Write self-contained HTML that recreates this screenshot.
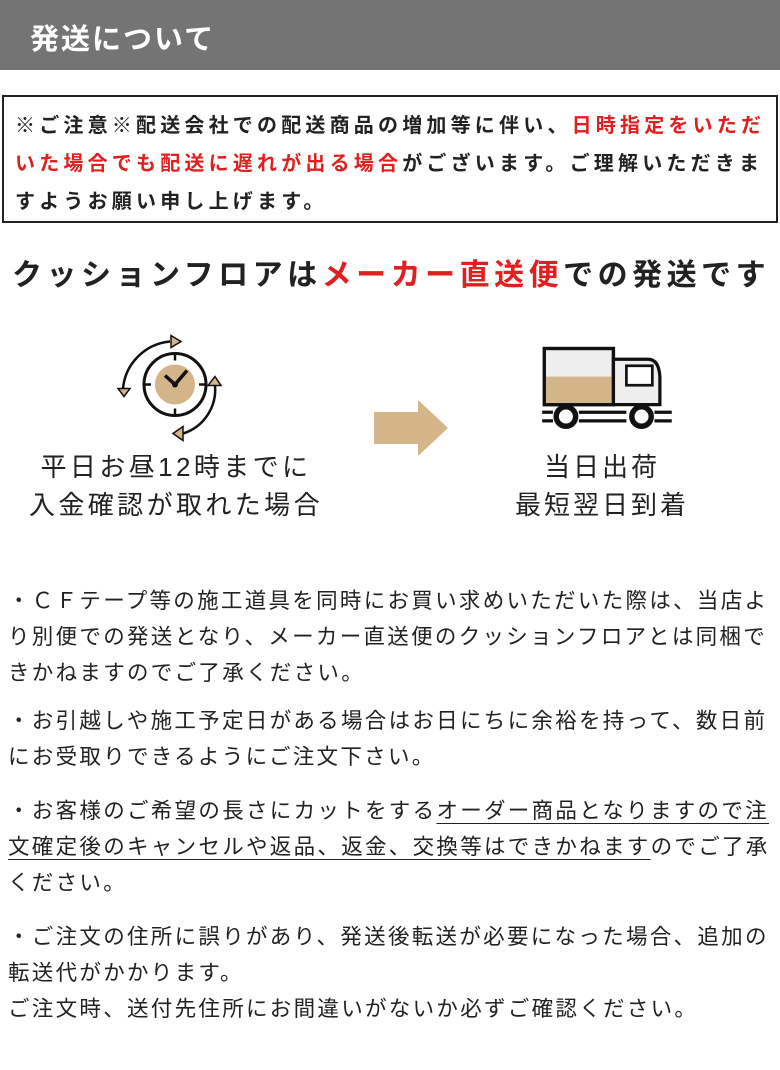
<!DOCTYPE html>
<html><head><meta charset="utf-8">
<style>
body{margin:0;width:780px;height:1070px;background:#fff;position:relative;overflow:hidden;font-family:"Liberation Sans","Noto Sans CJK JP",sans-serif;color:#222}
.a{position:absolute;white-space:nowrap}
.r{color:#e02020}
.u{text-decoration:underline;text-underline-offset:5px;text-decoration-thickness:1px}
</style></head><body>
<div class="a" style="left:0;top:0;width:780px;height:70px;background:#747474"></div>
<div class="a" style="left:30px;top:16px;font-size:29px;font-weight:bold;color:#fff;letter-spacing:2px">発送について</div>
<div class="a" style="left:2px;top:95px;width:772px;height:124px;border:2px solid #222"></div>
<div class="a" style="left:15px;top:107px;font-size:20px;font-weight:bold;letter-spacing:4.2px;line-height:38px">※ご注意※配送会社での配送商品の増加等に伴い、<span class="r">日時指定をいただ</span><br><span class="r">いた場合でも配送に遅れが出る場合</span>がございます。ご理解いただきま<br>すようお願い申し上げます。</div>
<div class="a" style="left:12px;top:250px;font-size:30px;font-weight:bold;letter-spacing:4.5px">クッションフロアは<span class="r">メーカー直送便</span>での発送です</div>
<svg class="a" style="left:115px;top:328px" width="120" height="115" viewBox="0 0 120 110">
<circle cx="60" cy="54" r="31" fill="none" stroke="#111" stroke-width="3"/>
<circle cx="60" cy="54" r="20" fill="#d4b58a"/>
<g stroke="#111" stroke-width="2.5"><line x1="60" y1="23" x2="60" y2="30"/><line x1="60" y1="78" x2="60" y2="85"/><line x1="29" y1="54" x2="36" y2="54"/><line x1="84" y1="54" x2="91" y2="54"/></g>
<path d="M50 45 L60 54 L72 40" fill="none" stroke="#111" stroke-width="3.5"/>
<circle cx="60" cy="54" r="3" fill="#111"/>
<path d="M8 58 A52 52 0 0 1 55 11" fill="none" stroke="#111" stroke-width="2.5"/>
<path d="M56 5 L66 11 L56 17Z" fill="#d4b58a" stroke="#111" stroke-width="1.5"/>
<path d="M3 58 L15 58 L9 66Z" fill="#d4b58a" stroke="#111" stroke-width="1.5"/>
<path d="M100 55 A46 46 0 0 1 68 103" fill="none" stroke="#111" stroke-width="2.5"/>
<path d="M93 55 L106 55 L100 46Z" fill="#d4b58a" stroke="#111" stroke-width="1.5"/>
<path d="M68 96 L58 103 L68 110Z" fill="#d4b58a" stroke="#111" stroke-width="1.5"/>
</svg>
<svg class="a" style="left:372px;top:398px" width="90" height="60"><path d="M2 14 L46 14 L46 2 L76 30 L46 58 L46 46 L2 46Z" fill="#d4b58a"/></svg>
<svg class="a" style="left:540px;top:344px" width="135" height="90" viewBox="0 0 125 83">
<rect x="4" y="4" width="64" height="52" fill="#eee" stroke="#111" stroke-width="3"/>
<rect x="5" y="30" width="62" height="25" fill="#d4b58a"/>
<rect x="4" y="4" width="64" height="52" fill="none" stroke="#111" stroke-width="3"/>
<path d="M68 14 L100 14 Q110 14 111 30 L111 56 L68 56Z" fill="#eee" stroke="#111" stroke-width="3"/>
<rect x="80" y="20" width="24" height="18" fill="#fff" stroke="#111" stroke-width="2.5"/>
<g stroke="#111" stroke-width="3"><line x1="2" y1="63" x2="12" y2="63"/><line x1="2" y1="71" x2="12" y2="71"/><line x1="36" y1="63" x2="80" y2="63"/><line x1="36" y1="71" x2="80" y2="71"/><line x1="106" y1="63" x2="122" y2="63"/><line x1="106" y1="71" x2="122" y2="71"/></g>
<circle cx="24" cy="67" r="9" fill="#fff" stroke="#111" stroke-width="5"/>
<circle cx="94" cy="67" r="9" fill="#fff" stroke="#111" stroke-width="5"/>
</svg>
<div class="a" style="left:26px;top:448px;width:300px;text-align:center;font-size:26px;letter-spacing:3.4px;line-height:38px">平日お昼12時までに<br>入金確認が取れた場合</div>
<div class="a" style="left:452px;top:448px;width:300px;text-align:center;font-size:26px;letter-spacing:3px;line-height:38px">当日出荷<br>最短翌日到着</div>
<div class="a" style="left:8px;top:583px;font-size:21.5px;letter-spacing:2.3px;line-height:36px">・ＣＦテープ等の施工道具を同時にお買い求めいただいた際は、当店よ<br>り別便での発送となり、メーカー直送便のクッションフロアとは同梱で<br>きかねますのでご了承ください。</div>
<div class="a" style="left:8px;top:703px;font-size:21.5px;letter-spacing:2.3px;line-height:36px">・お引越しや施工予定日がある場合はお日にちに余裕を持って、数日前<br>にお受取りできるようにご注文下さい。</div>
<div class="a" style="left:8px;top:793px;font-size:21.5px;letter-spacing:2.3px;line-height:36px">・お客様のご希望の長さにカットをする<span class="u">オーダー商品となりますので注</span><br><span class="u">文確定後のキャンセルや返品、返金、交換等はできかねます</span>のでご了承<br>ください。</div>
<div class="a" style="left:8px;top:919px;font-size:21.5px;letter-spacing:2.3px;line-height:36px">・ご注文の住所に誤りがあり、発送後転送が必要になった場合、追加の<br>転送代がかかります。<br>ご注文時、送付先住所にお間違いがないか必ずご確認ください。</div>
</body></html>
